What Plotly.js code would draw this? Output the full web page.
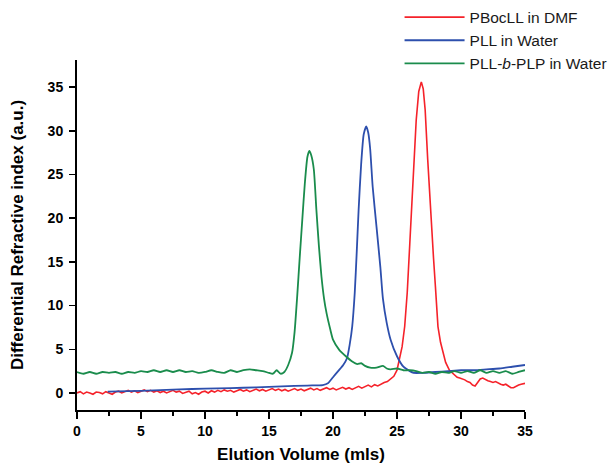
<!DOCTYPE html>
<html>
<head>
<meta charset="utf-8">
<script src="https://cdn.plot.ly/plotly-3.0.1.min.js"></script>
<style>html,body{margin:0;padding:0;background:#fff;}#chart{width:612px;height:464px;}</style>
</head>
<body>
<div id="chart"></div>
<script>
// PBocLL in DMF (red)
const redX = [0,0.25,0.5,0.75,1,1.25,1.5,1.75,2,2.25,2.5,2.75,3,3.25,3.5,3.75,4,4.25,4.5,4.75,5,5.25,5.5,5.75,6,6.25,6.5,6.75,7,7.25,7.5,7.75,8,8.25,8.5,8.75,9,9.25,9.5,9.75,10,10.25,10.5,10.75,11,11.25,11.5,11.75,12,12.25,12.5,12.75,13,13.25,13.5,13.75,14,14.25,14.5,14.75,15,15.25,15.5,15.75,16,16.25,16.5,16.75,17,17.25,17.5,17.75,18,18.25,18.5,18.75,19,19.25,19.5,19.75,20,20.25,20.5,20.75,21,21.25,21.5,21.75,22,22.25,22.5,22.75,23,23.25,23.5,23.75,24,24.25,24.5,24.75,25.0,25.2,25.4,25.6,25.8,26.0,26.15,26.3,26.5,26.7,26.9,27.05,27.2,27.4,27.55,27.7,27.85,28.0,28.2,28.4,28.6,28.8,29.1,29.3,29.5,29.7,29.9,30.1,30.3,30.5,30.7,30.9,31.1,31.3,31.5,31.7,31.9,32.1,32.3,32.5,32.7,32.9,33.1,33.3,33.5,33.7,33.9,34.1,34.3,34.5,34.7,34.9,35];
const redY = [0.0,0.15,-0.1,0.1,0.0,-0.15,0.1,0.05,-0.1,0.15,0.0,-0.15,0.1,0.2,0.0,0.15,0.3,0.1,0.25,0.05,0.2,0.35,0.15,0.3,0.1,0.25,0.05,0.2,0.0,0.15,0.3,0.1,0.2,-0.05,0.1,0.2,-0.1,0.05,-0.15,0.1,0.2,0.0,0.25,0.1,0.3,0.15,0.35,0.2,0.3,0.1,0.25,0.4,0.2,0.35,0.15,0.3,0.45,0.25,0.4,0.2,0.35,0.5,0.3,0.45,0.25,0.4,0.2,0.35,0.5,0.3,0.45,0.25,0.4,0.55,0.35,0.5,0.3,0.45,0.6,0.4,0.55,0.35,0.5,0.65,0.45,0.6,0.4,0.55,0.75,0.55,0.7,0.9,0.7,0.95,0.8,1.05,1.2,1.3,1.6,1.9,2.6,3.8,5.3,7.6,11.5,17.1,21.5,24.7,31.2,34.5,35.6,34.8,32.4,26.7,22.5,19.0,15.5,12.2,7.6,5.8,4.5,3.5,2.6,2.3,2.0,1.8,1.7,1.6,1.5,1.3,1.2,0.9,0.8,1.2,1.6,1.7,1.5,1.4,1.3,1.2,1.3,1.1,1.0,0.9,1.0,0.8,0.6,0.6,0.8,0.9,1.0,1.1,1.1];

// PLL in Water (blue)
const blueX = [2.4,4,6,8,10,12,14,16,18,19.2,19.6,20.0,20.4,20.8,21.1,21.3,21.5,21.7,21.85,22.0,22.2,22.4,22.6,22.75,22.9,23.1,23.4,23.7,23.9,24.2,24.5,25.0,25.5,26.0,26.3,27,28,29,30,31,32,33,34,35];
const blueY = [0.15,0.2,0.3,0.4,0.5,0.55,0.65,0.75,0.85,0.9,1.1,1.8,2.5,3.2,4.0,5.5,7.6,11.5,16,20.9,26.2,29.6,30.5,29.8,28.0,23.6,19.0,14.4,10.8,8.0,6.1,4.2,3.0,2.5,2.3,2.3,2.4,2.5,2.6,2.6,2.7,2.8,3.0,3.2];

// PLL-b-PLP in Water (green)
const greenX = [0,0.5,1,1.5,2,2.5,3,3.5,4,4.5,5,5.5,6,6.5,7,7.5,8,8.5,9,9.5,10,10.5,11,11.5,12,12.5,13,13.5,14,14.5,15,15.3,15.6,15.9,16.2,16.5,16.8,17.0,17.2,17.4,17.6,17.8,18.0,18.15,18.3,18.5,18.7,18.9,19.1,19.3,19.5,19.8,20.0,20.5,21.0,21.5,21.9,22.2,22.5,22.9,23.4,23.9,24.2,24.5,25.0,25.5,26,26.5,27,27.5,28,28.5,29,29.5,30,30.5,31,31.5,32,32.5,33,33.5,34,34.5,35];
const greenY = [2.4,2.2,2.4,2.2,2.4,2.3,2.4,2.2,2.4,2.3,2.5,2.4,2.6,2.4,2.6,2.4,2.6,2.4,2.5,2.3,2.4,2.6,2.4,2.3,2.6,2.4,2.6,2.7,2.6,2.5,2.3,2.2,2.6,2.2,2.4,3.2,4.6,7.0,11.0,15.5,19.8,24.0,27.0,27.7,27.2,25.6,21.0,16.8,13.3,10.8,9.1,7.2,6.1,4.9,4.2,3.6,3.3,3.4,3.1,2.9,2.9,3.1,2.8,2.7,2.8,2.6,2.6,2.5,2.3,2.4,2.2,2.4,2.3,2.5,2.3,2.5,2.3,2.6,2.3,2.5,2.3,2.5,2.2,2.4,2.6];

const seriesNames = ["PBocLL in DMF", "PLL in Water", "PLL-<i>b</i>-PLP in Water"];
const xTicks = [0,5,10,15,20,25,30,35];
const yTicks = [0,5,10,15,20,25,30,35];

const FONT = "'Liberation Sans', Arial, sans-serif";

const traces = [
  {x: redX, y: redY, name: seriesNames[0], type: 'scatter', mode: 'lines', line: {color: '#f5222a', width: 1.6}},
  {x: blueX, y: blueY, name: seriesNames[1], type: 'scatter', mode: 'lines', line: {color: '#2d4fad', width: 1.8, shape: 'spline', smoothing: 0.6}},
  {x: greenX, y: greenY, name: seriesNames[2], type: 'scatter', mode: 'lines', line: {color: '#1a8c4c', width: 1.8, shape: 'spline', smoothing: 0.6}}
];

const layout = {
  width: 612, height: 464,
  paper_bgcolor: '#ffffff', plot_bgcolor: '#ffffff',
  margin: {l: 77, r: 87, t: 60, b: 54, autoexpand: false},
  showlegend: true,
  legend: {x: 0.72, y: 1.17, xanchor: 'left', yanchor: 'top', bgcolor: 'rgba(0,0,0,0)',
           font: {family: FONT, size: 15.5, color: '#1a1a1a'}, itemwidth: 60, tracegroupgap: 0},
  xaxis: {
    range: [0, 35], tickvals: xTicks, ticktext: xTicks.map(String),
    showline: true, linecolor: '#000', linewidth: 2, mirror: false,
    ticks: 'outside', ticklen: 7, tickwidth: 1.5, tickcolor: '#000',
    minor: {ticks: 'outside', ticklen: 4, tickwidth: 1.5, dtick: 2.5, tickcolor: '#000', showgrid: false},
    showgrid: false, zeroline: false,
    tickfont: {family: FONT, size: 14, color: '#000', weight: 'bold'},
    title: {text: 'Elution Volume (mls)', font: {family: FONT, size: 17, color: '#000', weight: 'bold'}, standoff: 12}
  },
  yaxis: {
    range: [-1.95, 38.1], tickvals: yTicks, ticktext: yTicks.map(String),
    showline: true, linecolor: '#000', linewidth: 2, mirror: false,
    ticks: 'outside', ticklen: 6, tickwidth: 1.5, tickcolor: '#000',
    ticklabelstandoff: 3,
    showgrid: false, zeroline: false,
    tickfont: {family: FONT, size: 14, color: '#000', weight: 'bold'},
    title: {text: 'Differential Refractive index (a.u.)', font: {family: FONT, size: 17, color: '#000', weight: 'bold'}, standoff: 20}
  }
};

Plotly.newPlot('chart', traces, layout, {displayModeBar: false, staticPlot: true});
</script>
</body>
</html>
